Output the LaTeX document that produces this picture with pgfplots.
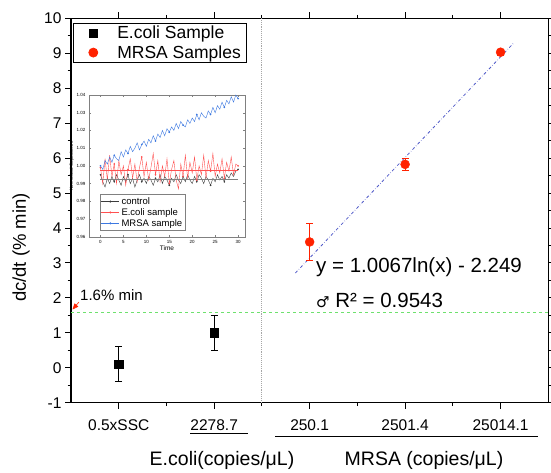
\documentclass[border=0pt]{standalone}
\usepackage{pgfplots}
\pgfplotsset{compat=1.18}
\usepackage{fontspec}
\setmainfont{Liberation Sans}
\newfontfamily\symfont{DejaVu Sans}
\usetikzlibrary{arrows.meta}
\definecolor{mred}{RGB}{255,34,0}
\definecolor{fitblue}{RGB}{80,90,200}
\definecolor{lgreen}{RGB}{110,225,110}
\definecolor{ired}{RGB}{255,80,80}
\definecolor{iblue}{RGB}{60,120,225}
\definecolor{igray}{RGB}{60,60,60}

\pgfplotstableread{
t ctrl ecoli mrsa
0 0.995 0.999 1.000
0.5 0.991 0.990 0.998
1 0.988 1.004 1.003
1.5 0.993 0.992 1.001
2 0.990 1.006 1.005
2.5 0.994 0.994 1.002
3 0.991 1.001 1.006
3.5 0.995 0.990 1.004
4 0.992 1.003 1.003
4.5 0.989 0.995 1.008
5 0.994 1.000 1.005
5.5 0.991 0.989 1.009
6 0.995 0.998 1.007
6.5 0.990 1.004 1.011
7 0.993 0.993 1.008
7.5 0.988 1.001 1.010
8 0.992 0.991 1.013
8.5 0.995 0.999 1.009
9 0.991 1.005 1.012
9.5 0.993 0.994 1.014
10 0.990 1.002 1.011
10.5 0.994 0.992 1.015
11 0.992 0.999 1.013
11.5 0.989 1.007 1.017
12 0.993 0.995 1.014
12.5 0.991 1.003 1.018
13 0.995 0.991 1.016
13.5 0.990 1.000 1.020
14 0.994 0.994 1.017
14.5 0.992 1.004 1.021
15 0.989 0.990 1.019
15.5 0.993 0.998 1.022
16 0.991 1.003 1.020
16.5 0.995 0.992 1.024
17 0.992 0.987 1.021
17.5 0.990 1.001 1.025
18 0.994 0.994 1.023
18.5 0.991 1.006 1.022
19 0.995 0.993 1.026
19.5 0.992 1.002 1.024
20 0.990 0.996 1.027
20.5 0.994 1.005 1.025
21 0.991 0.992 1.029
21.5 0.995 1.000 1.026
22 0.993 0.995 1.030
22.5 0.990 1.006 1.028
23 0.994 0.993 1.027
23.5 0.992 1.003 1.031
24 0.989 0.997 1.029
24.5 0.993 1.007 1.033
25 0.991 0.994 1.030
25.5 0.995 1.001 1.034
26 0.992 0.996 1.032
26.5 0.994 1.004 1.036
27 0.991 0.993 1.033
27.5 0.995 1.002 1.037
28 0.993 0.997 1.035
28.5 0.996 1.005 1.039
29 0.994 0.995 1.036
29.5 0.997 1.001 1.040
30 0.998 1.000 1.038
}\insetdata

\begin{document}
\begin{tikzpicture}
\useasboundingbox (0pt,0pt) rectangle (551pt,472pt);
\begin{axis}[at={(71pt,69.3pt)}, anchor=south west,
  width=477.3pt, height=384.4pt, scale only axis,
  xmin=0.5, xmax=5.5, ymin=-1, ymax=10,
  xtick={1,2,3,4,5},
  xticklabels={0.5xSSC,2278.7,250.1,2501.4,25014.1},
  minor xtick={1.5,2.5,3.5,4.5},
  ytick={-1,0,...,10}, minor ytick={-0.5,0.5,...,9.5},
  tick align=outside, major tick length=6pt, minor tick length=3.5pt,
  tick style={black, line width=0.9pt},
  axis line style={line width=1.1pt},
  /pgf/number format/assume math mode=true,
  yticklabel style={font=\fontsize{15.5}{15.5}\selectfont},
  xticklabel style={font=\fontsize{15.5}{15.5}\selectfont, yshift=-7pt},
  legend style={at={(rel axis cs:0.004,0.988)}, anchor=north west,
    draw=black, line width=0.8pt, font=\fontsize{17.5}{18}\selectfont,
    inner xsep=4pt, inner ysep=1pt, row sep=1pt},
  legend cell align=left,
  legend image code/.code={\path[draw=none] (0pt,0pt) -- (38pt,0pt); \path[draw=none, #1] plot coordinates {(16pt,0pt)};},
]
\addplot[forget plot, color=gray!70, densely dotted, line width=0.9pt] coordinates {(2.5,-1) (2.5,10)};
\addplot[forget plot, color=lgreen, dashed, line width=0.9pt] coordinates {(0.5,1.57) (5.5,1.57)};
\addplot[forget plot, color=fitblue, dash dot, line width=0.8pt] coordinates {(2.85,2.71) (5.14,9.30)};
\addplot[only marks, mark=square*, mark size=4.2pt, color=black,
  error bars/.cd, y dir=both, y explicit,
  error bar style={black, line width=0.6pt},
  error mark options={rotate=90, mark size=3.5pt, black, line width=0.6pt}]
  coordinates {(1,0.1) +- (0,0.5) (2,1.0) +- (0,0.5)};
\addlegendentry{E.coli Sample}
\addplot[only marks, mark=*, mark size=4.5pt, color=mred,
  error bars/.cd, y dir=both, y explicit,
  error bar style={mred, line width=0.6pt},
  error mark options={rotate=90, mark size=3.5pt, mred, line width=0.6pt}]
  coordinates {(3,3.6) +- (0,0.53) (4,5.82) +- (0,0.17) (5,9.03) +- (0,0.08)};
\addlegendentry{MRSA Samples}
\end{axis}

\begin{axis}[at={(89pt,235.3pt)}, anchor=south west,
  width=156pt, height=141.7pt, scale only axis,
  xmin=-2.5, xmax=31.5, ymin=0.96, ymax=1.04,
  axis background/.style={fill=white},
  xtick={0,5,...,30}, ytick={0.96,0.97,...,1.04},
  tick align=inside, major tick length=2pt,
  tick style={line width=0.3pt},
  axis line style={line width=0.4pt, gray},
  /pgf/number format/assume math mode=true,
  ticklabel style={font=\fontsize{4.5}{5}\selectfont},
  yticklabel style={/pgf/number format/.cd, fixed, fixed zerofill, precision=2},
  xlabel={Time}, xlabel style={font=\fontsize{6.5}{7}\selectfont, yshift=4pt},
  ylabel={Normalized Capacitance}, ylabel style={font=\fontsize{4.5}{5}\selectfont, yshift=-4pt},
  legend style={at={(rel axis cs:0.07,0.30)}, anchor=north west,
    draw=gray, line width=0.4pt, font=\fontsize{9.5}{10}\selectfont,
    inner sep=1pt, row sep=-1.5pt},
  legend cell align=left,
  legend image code/.code={\draw[#1] (0pt,0pt) -- (18pt,0pt); \path[#1, draw=none] plot[mark=*, mark size=0.8pt] coordinates {(9pt,0pt)};},
]
\addplot[color=igray, line width=0.4pt, mark=*, mark size=0.6pt, mark repeat=6] table[x=t, y=ctrl] {\insetdata};
\addlegendentry{control}
\addplot[color=ired, line width=0.4pt, mark=*, mark size=0.6pt, mark repeat=6] table[x=t, y=ecoli] {\insetdata};
\addlegendentry{E.coli sample}
\addplot[color=iblue, line width=0.4pt, mark=*, mark size=0.6pt, mark repeat=6] table[x=t, y=mrsa] {\insetdata};
\addlegendentry{MRSA sample}
\addplot[forget plot, color=ired, line width=0.3pt] coordinates {(0,0.9975) (30,0.9975)};
\addplot[forget plot, color=gray, line width=0.3pt] coordinates {(0,0.9925) (30,0.9925)};
\end{axis}

\draw[-{Triangle[length=6pt,width=5pt]}, mred, line width=0.6pt] (79pt,170pt) -- (72.5pt,162.5pt);
\node[anchor=west, font=\fontsize{15}{15}\selectfont, inner sep=0pt] at (80pt,177pt) {1.6\% min};
\node[anchor=west, font=\fontsize{20.5}{21}\selectfont, inner sep=0pt] at (316pt,205pt) {y = 1.0067ln(x) - 2.249};
\node[anchor=west, font=\fontsize{20.5}{21}\selectfont, inner sep=0pt] at (316pt,172pt) {{\symfont\fontsize{15}{15}\selectfont ♂} R² = 0.9543};
\draw[line width=0.7pt] (190pt,39pt) -- (248pt,39pt);
\draw[line width=0.7pt] (275pt,36pt) -- (538pt,36pt);
\node[font=\fontsize{19.5}{20}\selectfont] at (222pt,12pt) {E.coli(copies/μL)};
\node[font=\fontsize{19.5}{20}\selectfont] at (424pt,12pt) {MRSA (copies/μL)};
\node[rotate=90, font=\fontsize{18.5}{19}\selectfont] at (21pt,224.5pt) {dc/dt (\% min)};
\end{tikzpicture}
\end{document}
